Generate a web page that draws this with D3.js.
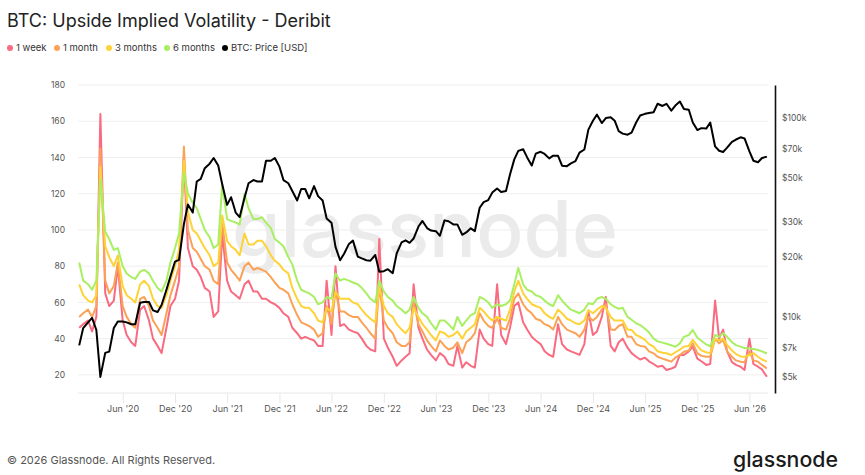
<!DOCTYPE html>
<html>
<head>
<meta charset="utf-8">
<script src="https://cdn.jsdelivr.net/npm/d3@7/dist/d3.min.js"></script>
<style>
    body { margin: 0; background: #fff; }
    svg { font-family: Inter, "Noto Sans", sans-serif; }
</style>
</head>
<body>
<div class="wrapper"></div>
<script>
// one value on the 1st and one on the 15th of every month, Jan 2020 -> Aug 2026
var firstMonth = new Date(2020, 0, 1);

var week1 = [
    46, 48, 50, 44, 52, 164, 65, 58, 61, 80, 50, 42, 38, 36, 56, 58, 50, 40, 36, 32, 46, 58, 62, 72,
    140, 90, 80, 78, 74, 68, 66, 52, 55, 98, 72, 66, 64, 62, 70, 72, 66, 66, 62, 62, 60, 59, 57, 54,
    52, 46, 43, 40, 41, 40, 39, 36, 36, 72, 42, 80, 47, 48, 45, 44, 43, 40, 36, 34, 33, 95, 40, 35,
    30, 25, 28, 30, 32, 70, 46, 40, 34, 31, 28, 32, 30, 26, 25, 36, 24, 27, 25, 24, 45, 40, 37, 36,
    70, 42, 37, 46, 58, 60, 49, 45, 41, 39, 37, 33, 31, 30, 48, 37, 34, 33, 32, 31, 37, 55, 42, 44,
    52, 63, 36, 33, 38, 40, 35, 32, 30, 28.5, 29.5, 27.5, 26, 24.5, 25, 22.7, 23.5, 24.5, 31, 31, 33, 35.6, 29, 27.5,
    25.5, 26, 61, 40, 45, 33, 27, 25.5, 24.5, 22.7, 40, 26, 24.5, 23, 19
];
var month1 = [
    52, 54, 56, 52, 58, 145, 72, 65, 69, 82, 58, 52, 48, 46, 62, 63, 58, 50, 46, 42, 54, 64, 72, 80,
    146, 100, 90, 88, 84, 80, 78, 72, 70, 104, 82, 78, 75, 72, 80, 82, 78, 79, 78, 77, 74, 71, 68, 67,
    65, 59, 53, 49, 48, 47, 45, 41, 43, 58, 48, 66, 55, 55, 53, 52, 52, 49, 46, 43, 40, 69, 50, 46,
    43, 38, 36, 36, 38, 60, 48, 44, 39, 36, 33, 39, 36, 34, 35, 38, 32, 38, 40, 43, 54, 50, 47, 46,
    51, 46, 45, 51, 62, 65, 59, 56, 54, 51, 50, 48, 47, 45, 52, 48, 45, 44, 43, 41, 45, 52, 50, 52,
    56, 59, 45, 44.8, 47, 48, 41, 41, 37, 36, 35.6, 33, 31.9, 30, 29, 28.2, 27.3, 29.5, 31, 32.8, 33.5, 37.4, 32, 30.5,
    30, 30, 40, 37.4, 39.3, 33, 30, 28, 27.3, 27, 33, 28, 27.3, 25.5, 23.5
];
var months3 = [
    70, 64, 61, 60, 64, 135, 91, 85, 80, 86, 69, 64, 62, 60, 70, 72, 69, 62, 58, 57, 64, 72, 80, 89,
    138, 110, 100, 98, 94, 90, 86, 80, 82, 108, 94, 91, 89, 86, 98, 92, 92, 94, 94, 91, 86, 83, 81, 78,
    76, 68, 62, 58, 57, 57, 54, 50, 49, 57, 55, 66, 62, 62, 62, 60, 59, 56, 53, 51, 49, 69, 58, 54,
    52, 48, 45, 43, 46, 57, 52, 48, 45, 42, 39, 44, 43, 41, 42, 44, 40, 44, 46, 48, 57, 55, 52, 50,
    52, 51, 50, 56, 66, 72, 65, 62, 59, 58, 57, 54, 52, 51, 56, 54, 51, 50, 48.5, 48, 50, 55.8, 54, 56,
    58, 57, 52, 50, 50, 50, 45, 44.8, 42, 41, 39.3, 37, 35.6, 33, 32.2, 31.9, 31, 32.5, 34, 35.6, 36, 39.3, 36, 33.5,
    32.5, 32, 40, 39, 40, 36.5, 33.5, 31.5, 30.2, 30, 31, 32, 30, 28.5, 27.3
];
var months6 = [
    82, 72, 70, 67, 72, 128, 99, 95, 89, 90, 80, 76, 74, 73, 77, 78, 76, 72, 68, 66, 72, 82, 90, 98,
    132, 120, 115, 112, 106, 100, 96, 90, 92, 125, 106, 105, 104, 103, 120, 112, 106, 106, 107, 104, 101, 95, 93, 91,
    85, 81, 72, 67, 66, 65, 63, 59, 60, 63, 62, 76, 72, 73, 72, 71, 70, 68, 65, 62, 60, 72, 66, 63,
    61, 58, 56, 54, 56, 63, 57, 54, 52, 48.5, 45, 50, 50, 48, 45, 52, 47, 50, 53, 54, 63, 62, 60, 57,
    59, 58, 59, 61, 70, 79, 70, 67, 66, 64, 63, 61, 59, 58, 64, 61, 58, 56, 55, 54, 56, 59.5, 59, 62,
    63, 62, 59, 57.5, 56.5, 57, 52, 50.4, 48.5, 47.5, 45.5, 43.5, 40, 38.5, 37.8, 37.2, 36.4, 35.5, 37.4, 41, 42, 44.8, 40.5, 38.8,
    36.8, 35.8, 42, 41, 43, 41, 38, 36.4, 35.6, 34.8, 34.6, 34.3, 33.7, 33, 31.8
];
var btcPrice = [
    7200, 8800, 9400, 9900, 8600, 5000, 6600, 6700, 8800, 9500, 9500, 9400, 9200, 9200, 11800, 11900, 11900, 10800, 10600, 11500, 13700, 16000, 19000, 19400,
    29300, 36800, 33500, 48000, 49500, 56000, 59000, 63000, 57800, 46500, 36600, 40000, 33500, 31800, 39800, 47000, 48800, 48000, 48000, 61000, 61000, 63000, 57000, 48800,
    47000, 43000, 38500, 44000, 44000, 39500, 45500, 40500, 38500, 31300, 29800, 22500, 19300, 20800, 23300, 24200, 20100, 19700, 19300, 19200, 20500, 16900, 17000, 17400,
    16600, 20900, 23700, 24300, 23600, 24800, 28500, 30400, 28000, 27200, 27000, 25600, 30600, 30300, 29200, 29200, 25900, 26600, 27900, 27000, 35400, 37800, 38700, 42200,
    44200, 42500, 43000, 52000, 62000, 68400, 69700, 63400, 57700, 66200, 67700, 66000, 62700, 64700, 64600, 57600, 57300, 59200, 60800, 67000, 69500, 87500, 97000, 104000,
    94400, 100000, 101000, 97000, 86000, 83500, 82500, 84500, 95000, 103000, 105000, 106000, 107000, 118000, 115000, 118000, 109000, 115500, 121000, 111000, 110000, 95000, 87000, 89000,
    88500, 95000, 72000, 68500, 67500, 71000, 76000, 78000, 80000, 79000, 68000, 61000, 60000, 63000, 64000
];

var seriesNames = ["1 week", "1 month", "3 months", "6 months", "BTC: Price [USD]"];
var seriesColors = ["#f96b80", "#fba257", "#fdd337", "#a9ef62", "#000000"];

var xTickDates = ["2020-06-01", "2020-12-01", "2021-06-01", "2021-12-01", "2022-06-01", "2022-12-01",
    "2023-06-01", "2023-12-01", "2024-06-01", "2024-12-01", "2025-06-01", "2025-12-01", "2026-06-01"];
var xTickLabels = ["Jun '20", "Dec '20", "Jun '21", "Dec '21", "Jun '22", "Dec '22", "Jun '23",
    "Dec '23", "Jun '24", "Dec '24", "Jun '25", "Dec '25", "Jun '26"];
var volTicks = [20, 40, 60, 80, 100, 120, 140, 160, 180];
var priceTicks = [5000, 7000, 10000, 20000, 30000, 50000, 70000, 100000];
var priceLabels = ["$5k", "$7k", "$10k", "$20k", "$30k", "$50k", "$70k", "$100k"];

var dates = btcPrice.map(function (d, i) {
    return new Date(firstMonth.getFullYear(), firstMonth.getMonth() + Math.floor(i / 2), i % 2 ? 15 : 1);
});

var svg = d3.select(".wrapper").append("svg")
    .attr("width", 865)
    .attr("height", 475);

var x = d3.scaleTime()
    .domain([new Date(2020, 0, 1), new Date(2026, 7, 6)])
    .range([79.2, 768.3]);
var yVol = d3.scaleLinear().domain([10, 180]).range([393, 85]);
var yPrice = d3.scaleLog().domain([4150, 146600]).range([393, 85]);

// title + legend
svg.append("text")
    .attr("x", 7).attr("y", 27)
    .style("font-size", "18px")
    .style("fill", "#222")
    .text("BTC: Upside Implied Volatility - Deribit");

var legendX = [10, 57, 109, 167, 225];
var legend = svg.append("g").selectAll("g")
    .data(seriesNames)
    .enter().append("g")
    .attr("transform", function (d, i) { return "translate(" + legendX[i] + ",48)"; });
legend.append("circle").attr("r", 3).style("fill", function (d, i) { return seriesColors[i]; });
legend.append("text")
    .attr("x", 6).attr("dy", "0.35em")
    .style("font-size", "9.5px")
    .style("fill", "#333")
    .text(function (d) { return d; });

// grid
svg.append("g").selectAll("line")
    .data(volTicks)
    .enter().append("line")
    .attr("x1", 78).attr("x2", 768)
    .attr("y1", function (d) { return yVol(d); })
    .attr("y2", function (d) { return yVol(d); })
    .style("stroke", "#eeeeee");

// watermark
svg.append("text")
    .attr("x", 425).attr("y", 257)
    .attr("text-anchor", "middle")
    .attr("textLength", 386)
    .attr("lengthAdjust", "spacingAndGlyphs")
    .style("font-size", "78px")
    .style("font-weight", 500)
    .style("fill", "#ebebeb")
    .text("glassnode");

// axes
var xAxis = svg.append("g")
    .attr("transform", "translate(0,393)")
    .call(d3.axisBottom(x)
        .tickValues(xTickDates.map(function (d) { return d3.timeParse("%Y-%m-%d")(d); }))
        .tickFormat(function (d, i) { return xTickLabels[i]; })
        .tickSize(10).tickSizeOuter(0).tickPadding(3));
xAxis.select(".domain").attr("d", "M78,0H768").style("stroke", "#e8e8e8");
xAxis.selectAll(".tick line").style("stroke", "#e8e8e8");
xAxis.selectAll("text").style("font-size", "9px").style("fill", "#555").style("font-family", "Inter, sans-serif");

var leftAxis = svg.append("g")
    .attr("transform", "translate(78,0)")
    .call(d3.axisLeft(yVol).tickValues(volTicks).tickSize(0).tickPadding(13));
leftAxis.select(".domain").remove();
leftAxis.selectAll("text").style("font-size", "8.5px").style("fill", "#555").style("font-family", "Inter, sans-serif");

var rightAxis = svg.append("g")
    .attr("transform", "translate(775,0)")
    .call(d3.axisRight(yPrice).tickValues(priceTicks)
        .tickFormat(function (d, i) { return priceLabels[i]; })
        .tickSize(0).tickSizeOuter(0).tickPadding(7));
rightAxis.select(".domain").style("stroke", "#111").style("stroke-width", 1.6);
rightAxis.selectAll("text").style("font-size", "8.5px").style("fill", "#555").style("font-family", "Inter, sans-serif");

// lines
var volLine = d3.line()
    .x(function (d, i) { return x(dates[i]); })
    .y(function (d) { return yVol(d); });

var volSeries = [week1, month1, months3, months6];
svg.append("g").selectAll("path")
    .data(volSeries)
    .enter().append("path")
    .attr("d", volLine)
    .style("fill", "none")
    .style("stroke", function (d, i) { return seriesColors[i]; })
    .style("stroke-width", 2)
    .style("stroke-linejoin", "round");

var priceLine = d3.line()
    .x(function (d, i) { return x(dates[i]); })
    .y(function (d) { return yPrice(d); });

svg.append("path")
    .datum(btcPrice)
    .attr("d", priceLine)
    .style("fill", "none")
    .style("stroke", "#000")
    .style("stroke-width", 2)
    .style("stroke-linejoin", "round");

// footer
svg.append("text")
    .attr("x", 7).attr("y", 464)
    .style("font-size", "11px")
    .style("fill", "#555")
    .text("\u00a9 2026 Glassnode. All Rights Reserved.");

svg.append("text")
    .attr("x", 733).attr("y", 467)
    .attr("textLength", 105)
    .attr("lengthAdjust", "spacingAndGlyphs")
    .style("font-size", "21px")
    .style("font-weight", 500)
    .style("fill", "#1a1a1a")
    .text("glassnode");
</script>
</body>
</html>
